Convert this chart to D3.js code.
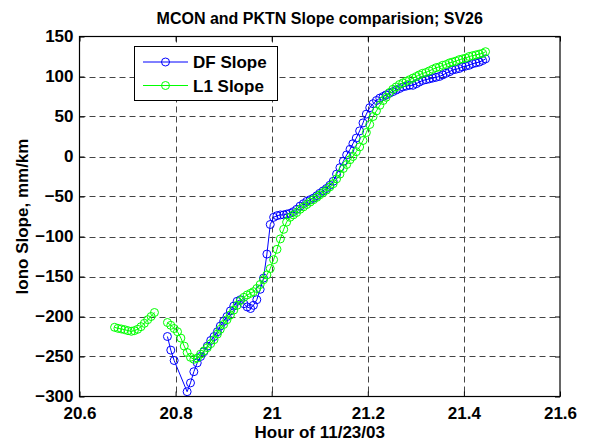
<!DOCTYPE html>
<html>
<head>
<meta charset="utf-8">
<script src="https://cdn.jsdelivr.net/npm/d3@7"></script>
<style>
  body { margin: 0; background: #fff; }
  text { font-family: "Liberation Sans", Arial, Helvetica, sans-serif; font-weight: bold; }
</style>
</head>
<body>
<svg id="chart" width="590" height="442"></svg>
<script>
// Early L1 samples before the data gap (hours, mm/km)
const hoursEarly = [20.673, 20.680, 20.687, 20.694, 20.701, 20.708, 20.714, 20.721, 20.728, 20.735, 20.742, 20.749, 20.756];
const l1Early = [-213.5, -214.8, -215.6, -216.5, -217.7, -218.5, -217.7, -216, -212.7, -208.5, -204, -200, -195];

// Common epochs for both slope series after the gap
const hours = [
  20.783, 20.790, 20.797, 20.804, 20.811, 20.818, 20.824, 20.831, 20.838, 20.845,
  20.852, 20.859, 20.866, 20.873, 20.880, 20.887, 20.893, 20.900, 20.907, 20.914,
  20.921, 20.928, 20.935, 20.942, 20.949, 20.956, 20.962, 20.969, 20.976, 20.983,
  20.990, 20.997, 21.004, 21.011, 21.018, 21.025, 21.031, 21.038, 21.045, 21.052,
  21.059, 21.066, 21.073, 21.080, 21.087, 21.094, 21.100, 21.107, 21.114, 21.121,
  21.128, 21.135, 21.142, 21.149, 21.156, 21.163, 21.169, 21.176, 21.183, 21.190,
  21.197, 21.204, 21.211, 21.218, 21.225, 21.232, 21.238, 21.245, 21.252, 21.259,
  21.266, 21.273, 21.280, 21.287, 21.294, 21.301, 21.307, 21.314, 21.321, 21.328,
  21.335, 21.342, 21.349, 21.356, 21.363, 21.370, 21.376, 21.383, 21.390, 21.397,
  21.404, 21.411, 21.418, 21.425, 21.432, 21.439, 21.445
];

// Dual-frequency slope (null = no sample at that epoch)
const dfSlope = [
  -225, -242, -255, null, null, null, -294, -283, -269, -258,
  -250, -244, -237, -230, -225, -219, -212, -206, -200, -193,
  -187, -181, -179, -184, -188, -190, -186, -179, -166, -152,
  -122, -85, -76, -74, -73, -73, -72, -71, -69, -66,
  -62, -59, -56, -54, -52, -49, -46, -43, -40, -36,
  -31, -22, -14, -6, 2, 9, 16, 23, 32, 42,
  53, 61, 66, 70, 73, 75, 77, 79, 81, 83,
  85, 87, 88, 89, 89, 91, 93, 95, 96, 97,
  98, 99, 100, 102, 104, 106, 108, 109, 110, 112,
  113, 114, 116, 117, 118, 120, 122
];

// L1-only slope
const l1Slope = [
  -207.5, -211, -215, -219, -227, -237, -245, -251, -253.5, -252,
  -247, -243, -239, -234, -229, -222, -216, -210, -204, -198,
  -192, -186, -180, -176, -173, -171, -169, -165, -160, -154,
  -148, -140, -129, -116, -103, -91, -82, -76, -73, -70,
  -66, -63, -60, -57, -54, -51, -48, -45, -42, -38,
  -34, -28, -22, -15, -10, -4, 0, 6, 12, 20,
  30, 40, 50, 57, 64, 70, 74, 80, 84, 87,
  90, 92, 94, 96, 98, 100, 102, 104, 105, 107,
  109, 111, 112, 114, 115, 117, 118, 119, 121, 122,
  123, 125, 126, 127, 128, 129, 131
];

const xTicks = [20.6, 20.8, 21, 21.2, 21.4, 21.6];
const xTickLabels = ["20.6", "20.8", "21", "21.2", "21.4", "21.6"];
const yTicks = [-300, -250, -200, -150, -100, -50, 0, 50, 100, 150];
const seriesNames = ["DF Slope", "L1 Slope"];
const seriesColors = ["#0000ff", "#00ff00"];

const svg = d3.select("#chart");
const W = 590, H = 442;
const plot = { left: 79.5, right: 560, top: 36.5, bottom: 396.5 };

const x = d3.scaleLinear().domain([20.6, 21.6]).range([plot.left, plot.right]);
const y = d3.scaleLinear().domain([-300, 150]).range([plot.bottom, plot.top]);

svg.append("rect").attr("width", W).attr("height", H).attr("fill", "#fff");

// dashed grid
const grid = svg.append("g").attr("stroke", "#444").attr("stroke-width", 1)
  .attr("stroke-dasharray", "6,4").attr("fill", "none");
grid.selectAll("line.v").data(xTicks.slice(1, -1)).join("line")
  .attr("x1", d => Math.round(x(d)) + 0.5).attr("x2", d => Math.round(x(d)) + 0.5)
  .attr("y1", plot.top).attr("y2", plot.bottom);
grid.selectAll("line.h").data(yTicks.slice(1, -1)).join("line")
  .attr("y1", d => Math.round(y(d)) + 0.5).attr("y2", d => Math.round(y(d)) + 0.5)
  .attr("x1", plot.left).attr("x2", plot.right);

// series
const line = d3.line().x(d => x(d[0])).y(d => y(d[1]));
const dfPts = hours.map((h, i) => [h, dfSlope[i]]).filter(d => d[1] !== null);
const l1Main = hours.map((h, i) => [h, l1Slope[i]]);
const l1Pre = hoursEarly.map((h, i) => [h, l1Early[i]]);

function drawSeries(segments, color) {
  const g = svg.append("g");
  segments.forEach(seg => {
    g.append("path").attr("d", line(seg)).attr("fill", "none")
      .attr("stroke", color).attr("stroke-width", 1);
  });
  segments.forEach(seg => {
    g.selectAll(null).data(seg).join("circle")
      .attr("cx", d => x(d[0])).attr("cy", d => y(d[1])).attr("r", 4)
      .attr("fill", "none").attr("stroke", color).attr("stroke-width", 1);
  });
}
drawSeries([dfPts], seriesColors[0]);
drawSeries([l1Pre, l1Main], seriesColors[1]);

// axes with inward ticks on all four sides
const fontSize = 17;
const xAxis = d3.axisBottom(x).tickValues(xTicks).tickFormat((d, i) => xTickLabels[i])
  .tickSizeInner(-5).tickSizeOuter(0).tickPadding(10);
const gx = svg.append("g").attr("transform", `translate(0,${plot.bottom})`).call(xAxis);
const yAxis = d3.axisLeft(y).tickValues(yTicks).tickFormat(d3.format("d"))
  .tickSizeInner(-5).tickSizeOuter(0).tickPadding(6);
const gy = svg.append("g").attr("transform", `translate(${plot.left},0)`).call(yAxis);
const xTop = d3.axisTop(x).tickValues(xTicks).tickFormat("").tickSizeInner(-5).tickSizeOuter(0);
const gxt = svg.append("g").attr("transform", `translate(0,${plot.top})`).call(xTop);
const yRight = d3.axisRight(y).tickValues(yTicks).tickFormat("").tickSizeInner(-5).tickSizeOuter(0);
const gyr = svg.append("g").attr("transform", `translate(${plot.right},0)`).call(yRight);
[gx, gy, gxt, gyr].forEach(g => {
  g.select(".domain").remove();
  g.selectAll(".tick line").attr("stroke", "#000");
  g.selectAll(".tick text").attr("fill", "#000").style("font-size", fontSize + "px")
    .style("font-family", '"Liberation Sans", Arial, sans-serif').style("font-weight", "bold");
});

// frame
svg.append("rect").attr("x", plot.left).attr("y", plot.top)
  .attr("width", plot.right - plot.left).attr("height", plot.bottom - plot.top)
  .attr("fill", "none").attr("stroke", "#000").attr("stroke-width", 1.2);

// title and axis labels
svg.append("text").attr("x", (plot.left + plot.right) / 2).attr("y", 24)
  .attr("text-anchor", "middle").style("font-size", "16px")
  .text("MCON and PKTN Slope comparision; SV26");
svg.append("text").attr("x", (plot.left + plot.right) / 2).attr("y", 438)
  .attr("text-anchor", "middle").style("font-size", fontSize + "px")
  .text("Hour of 11/23/03");
svg.append("text").attr("transform", `translate(28,${(plot.top + plot.bottom) / 2}) rotate(-90)`)
  .attr("text-anchor", "middle").style("font-size", fontSize + "px")
  .text("Iono Slope, mm/km");

// legend
const lg = svg.append("g");
lg.append("rect").attr("x", 134.5).attr("y", 46.5).attr("width", 143).attr("height", 54)
  .attr("fill", "#fff").attr("stroke", "#000").attr("stroke-width", 1);
seriesNames.forEach((name, i) => {
  const cy = 62 + i * 23.5;
  lg.append("line").attr("x1", 143).attr("x2", 188).attr("y1", cy).attr("y2", cy)
    .attr("stroke", seriesColors[i]).attr("stroke-width", 1);
  lg.append("circle").attr("cx", 165.5).attr("cy", cy).attr("r", 4)
    .attr("fill", "none").attr("stroke", seriesColors[i]).attr("stroke-width", 1);
  lg.append("text").attr("x", 193).attr("y", cy).attr("dy", "0.36em")
    .style("font-size", fontSize + "px").text(name);
});
</script>
</body>
</html>
